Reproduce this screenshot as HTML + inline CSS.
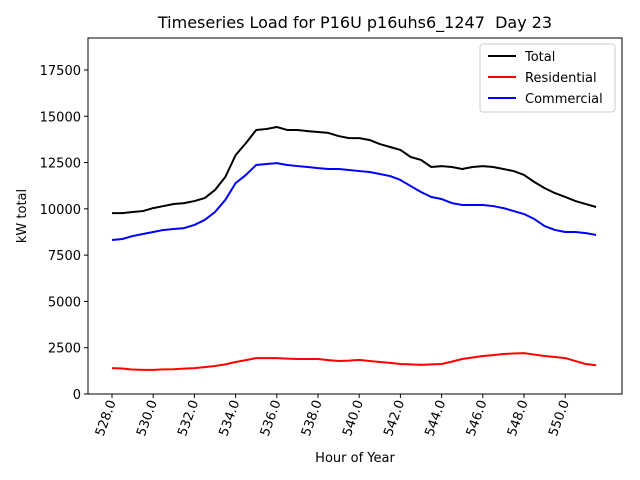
<!DOCTYPE html>
<html><head><meta charset="utf-8"><style>
body{margin:0;background:#fff;}
svg{display:block;font-family:"DejaVu Sans","Liberation Sans",sans-serif;}
</style></head><body>
<svg id="chart" width="640" height="480">
<rect width="640" height="480" fill="#fff"/>
<text x="355" y="28" text-anchor="middle" font-size="16">Timeseries Load for P16U p16uhs6_1247 &#160;Day 23</text>
<g id="plot"></g>
<rect x="88" y="38" width="534" height="356" fill="none" stroke="#000" stroke-width="1"/>
<text x="355" y="462" text-anchor="middle" font-size="13">Hour of Year</text>
<text transform="translate(26,216) rotate(-90)" text-anchor="middle" font-size="13">kW total</text>
<g>
<rect x="480" y="44" width="135" height="68" fill="#fff" stroke="#ccc" rx="3"/>
<line x1="488" y1="56" x2="516" y2="56" stroke="#000" stroke-width="2"/>
<text x="525" y="61" font-size="13">Total</text>
<line x1="488" y1="77" x2="516" y2="77" stroke="#f00" stroke-width="2"/>
<text x="525" y="82" font-size="13">Residential</text>
<line x1="488" y1="98" x2="516" y2="98" stroke="#00f" stroke-width="2"/>
<text x="525" y="103" font-size="13">Commercial</text>
</g>
</svg>
<script>
const hours = [];
for (let h = 528; h <= 551.5; h += 0.5) hours.push(h);
const total = [9770,9770,9830,9880,10040,10150,10260,10310,10420,10580,11020,11720,12900,13550,14260,14310,14420,14260,14260,14200,14150,14100,13930,13820,13820,13720,13500,13340,13180,12800,12640,12260,12310,12260,12150,12260,12310,12260,12150,12040,11830,11450,11120,10850,10640,10420,10260,10100];
const commercial = [8320,8370,8530,8640,8750,8860,8910,8960,9130,9400,9830,10480,11390,11830,12370,12420,12470,12370,12310,12260,12200,12150,12150,12100,12040,11990,11880,11770,11560,11230,10910,10640,10530,10310,10210,10210,10210,10150,10040,9880,9720,9450,9070,8860,8750,8750,8690,8590];
const residential = [1400,1380,1320,1300,1300,1330,1340,1370,1400,1450,1510,1600,1730,1830,1940,1940,1940,1910,1890,1890,1890,1830,1780,1800,1840,1780,1730,1680,1620,1600,1570,1600,1620,1750,1890,1970,2050,2100,2160,2190,2210,2130,2050,2000,1940,1780,1620,1550];
const yTicks = [0,2500,5000,7500,10000,12500,15000,17500];
const xTicks = [528,530,532,534,536,538,540,542,544,546,548,550];
const NS = "http://www.w3.org/2000/svg";
const xs = h => 112 + (h - 528) * 20.6;
const ys = v => 394 - v * (46.29 / 2500);
const g = document.getElementById('plot');
function mk(tag, attrs){const e=document.createElementNS(NS,tag);for(const k in attrs)e.setAttribute(k,attrs[k]);g.appendChild(e);return e;}
yTicks.forEach(v=>{
  const y=ys(v);
  const t=mk('line',{x1:84,x2:88,y1:y,y2:y,stroke:'#000'});
  
  
  const l=mk('text',{x:81,y:y+5,'text-anchor':'end','font-size':13});
  l.textContent=v;
  
  
});
xTicks.forEach(h=>{
  const x=xs(h);
  const t=mk('line',{x1:x,x2:x,y1:394,y2:398,stroke:'#000'});
  
  
  const l=mk('text',{transform:`translate(${x+4},402) rotate(-70)`,'text-anchor':'end','font-size':13});
  l.textContent=h.toFixed(1);
  
  
});
function series(vals,color,name){
  const p=mk('polyline',{points:vals.map((v,i)=>xs(hours[i])+','+ys(v)).join(' '),fill:'none',stroke:color,'stroke-width':2,'stroke-linejoin':'round'});
  
  
}
series(total,'#000','total-line');
series(residential,'#f00','residential-line');
series(commercial,'#00f','commercial-line');
</script>
</body></html>
